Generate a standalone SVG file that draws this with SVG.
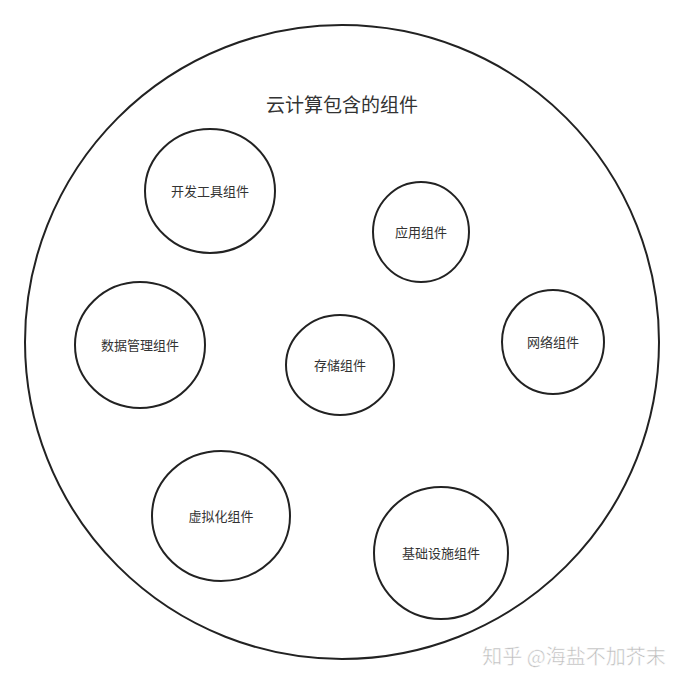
<svg xmlns="http://www.w3.org/2000/svg" width="685" height="685" viewBox="0 0 685 685">
<style>
.n{fill:#fff;stroke:#222;stroke-width:2}
.t{font-family:"Liberation Sans","Noto Sans CJK SC",sans-serif;font-size:13px;fill:#333;text-anchor:middle;dominant-baseline:central}
.title{font-size:19px}
.wm{font-family:"Noto Sans CJK SC",sans-serif;font-size:20px;fill:#bbb;stroke:#fff;stroke-width:0.5}
</style>
<rect width="685" height="685" fill="#fff"/>
<g id="cloud">
<ellipse class="n" cx="342" cy="342" rx="317" ry="317"/>
<text class="t title" x="342" y="105">云计算包含的组件</text>
</g>
<g id="connectors"></g>
<g id="devtools"><ellipse class="n" cx="210" cy="191" rx="65" ry="62"/><text class="t" x="210" y="191">开发工具组件</text></g>
<g id="app"><ellipse class="n" cx="421" cy="232" rx="48" ry="50"/><text class="t" x="421" y="232">应用组件</text></g>
<g id="datamgmt"><ellipse class="n" cx="140" cy="345" rx="65" ry="63"/><text class="t" x="140" y="345">数据管理组件</text></g>
<g id="storage"><ellipse class="n" cx="340" cy="365" rx="54" ry="50"/><text class="t" x="340" y="365">存储组件</text></g>
<g id="network"><ellipse class="n" cx="553" cy="342" rx="51" ry="52"/><text class="t" x="553" y="342">网络组件</text></g>
<g id="virtual"><ellipse class="n" cx="221" cy="516" rx="69" ry="65"/><text class="t" x="221" y="516">虚拟化组件</text></g>
<g id="infra"><ellipse class="n" cx="441" cy="553" rx="67" ry="66"/><text class="t" x="441" y="553">基础设施组件</text></g>
<text class="wm" x="574" y="664" text-anchor="middle">知乎 @海盐不加芥末</text>
</svg>
